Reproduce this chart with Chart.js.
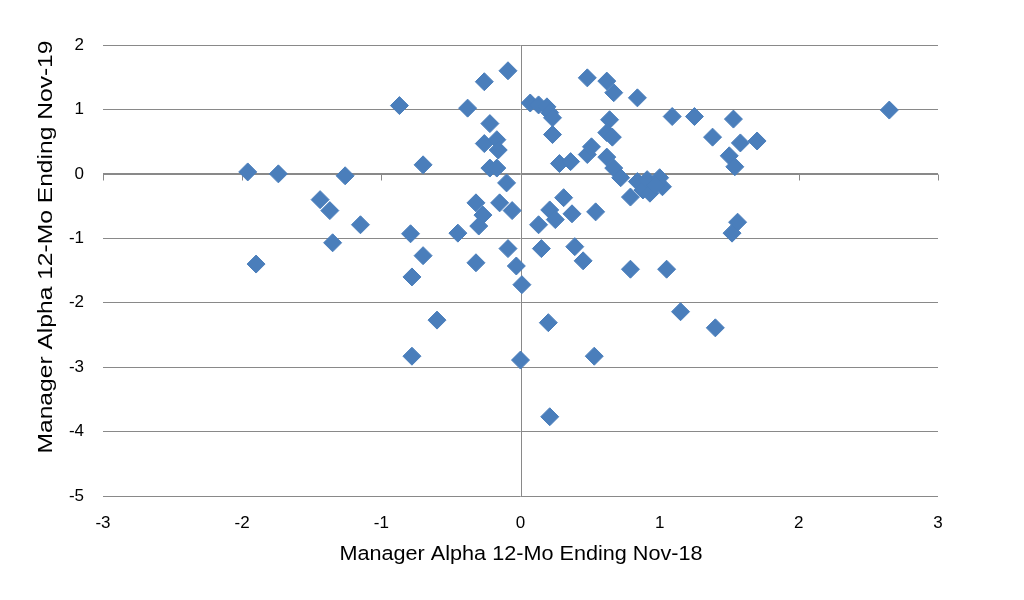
<!DOCTYPE html>
<html>
<head>
<meta charset="utf-8">
<script src="https://cdn.jsdelivr.net/npm/chart.js@4/dist/chart.umd.min.js"></script>
<style>
  html, body { margin: 0; padding: 0; background: #fff; }
  canvas { display: block; }
</style>
</head>
<body>
<canvas id="chart" width="1024" height="600"></canvas>
<script>
// Manager alpha, 12 months ending Nov-18 (x) and Nov-19 (y)
var alphaNov18 = [
    -1.96, -1.74, -1.90, -1.44, -1.37, -1.26, -1.35, -1.15, -0.87, -0.79,
    -0.78, -0.70, -0.70, -0.60, -0.78, -0.45, -0.38, -0.32, -0.27, -0.30,
    -0.32, -0.26, -0.22, -0.26, -0.17, -0.16, -0.22, -0.17, -0.15, -0.10,
    -0.09, -0.06, -0.09, -0.03, 0.01, 0.00, 0.07, 0.13, 0.19, 0.21,
    0.23, 0.23, 0.13, 0.15, 0.20, 0.21, 0.21, 0.25, 0.31, 0.28,
    0.36, 0.37, 0.54, 0.48, 0.51, 0.48, 0.39, 0.45, 0.53, 0.62,
    0.67, 0.64, 0.62, 0.66, 0.62, 0.67, 0.72, 0.84, 0.79, 0.84,
    0.88, 0.91, 0.93, 1.00, 1.02, 0.97, 0.79, 1.05, 1.09, 1.25,
    1.15, 1.38, 1.40, 1.50, 1.53, 1.58, 1.70, 1.54, 1.56, 1.52,
    2.65
];
var alphaNov19 = [
    0.03, 0.00, -1.40, -0.40, -0.57, -0.03, -1.07, -0.79, 1.06, -0.93,
    -1.60, 0.14, -1.27, -2.27, -2.83, -0.92, 1.02, -0.45, -0.64, -0.81,
    -1.38, 1.43, 0.78, 0.47, 0.53, 0.37, 0.09, 0.09, -0.45, -0.14,
    1.60, -0.57, -1.16, -1.43, -1.72, -2.89, 1.10, 1.07, 1.04, 0.95,
    0.87, 0.61, -0.79, -1.16, -2.31, -3.77, -0.56, -0.71, -0.37, 0.16,
    0.19, -0.62, -0.59, 0.30, 0.42, 1.49, -1.13, -1.35, -2.83, 1.44,
    1.26, 0.84, 0.64, 0.57, 0.26, 0.09, -0.06, 1.18, -0.36, -0.12,
    -0.25, -0.09, -0.30, -0.06, -0.20, -0.17, -1.48, -1.48, 0.89, 0.89,
    -2.14, 0.57, -2.39, 0.28, 0.85, 0.48, 0.51, 0.11, -0.75, -0.92,
    0.99
];
var xTitle = 'Manager Alpha 12-Mo Ending Nov-18';
var yTitle = 'Manager Alpha 12-Mo Ending Nov-19';

var points = alphaNov18.map(function(x, i) {
    return { x: x, y: alphaNov19[i] };
});

var axisGray = '#898989';
var fontFamily = '"Liberation Sans", Arial, sans-serif';

// zero axes with tick marks, like the spreadsheet chart
var zeroAxes = {
    id: 'zeroAxes',
    beforeDatasetsDraw: function(chart) {
        var ctx = chart.ctx;
        var xs = chart.scales.x;
        var ys = chart.scales.y;
        var area = chart.chartArea;
        var x0 = Math.round(xs.getPixelForValue(0)) + 0.5;
        var y0 = Math.round(ys.getPixelForValue(0)) + 0.5;
        ctx.save();
        ctx.strokeStyle = axisGray;
        ctx.lineWidth = 1;
        ctx.beginPath();
        ctx.moveTo(x0, area.top);
        ctx.lineTo(x0, area.bottom);
        ctx.moveTo(area.left, y0);
        ctx.lineTo(area.right, y0);
        xs.ticks.forEach(function(t) {
            var px = Math.round(xs.getPixelForValue(t.value)) + 0.5;
            ctx.moveTo(px, y0);
            ctx.lineTo(px, y0 + 6);
        });
        ctx.stroke();
        ctx.restore();
    }
};

// axis titles; the source text is a bit stretched along its length
var axisTitles = {
    id: 'axisTitles',
    afterDraw: function(chart) {
        var ctx = chart.ctx;
        ctx.save();
        ctx.fillStyle = '#000';
        ctx.font = '20.5px ' + fontFamily;
        ctx.textAlign = 'center';
        ctx.textBaseline = 'middle';

        ctx.save();
        ctx.translate(521, 554);
        ctx.scale(1.055, 1);
        ctx.fillText(xTitle, 0, 0);
        ctx.restore();

        ctx.save();
        ctx.translate(46, 247);
        ctx.rotate(-Math.PI / 2);
        ctx.scale(1.2, 1);
        ctx.fillText(yTitle, 0, 0);
        ctx.restore();

        ctx.restore();
    }
};

var ctx = document.getElementById('chart').getContext('2d');
var chart = new Chart(ctx, {
    type: 'scatter',
    data: {
        datasets: [{
            data: points,
            pointStyle: 'rectRot',
            pointRadius: 9,
            pointHoverRadius: 9,
            backgroundColor: '#4a7ebb',
            borderColor: '#4a7ebb',
            borderWidth: 1
        }]
    },
    options: {
        responsive: false,
        animation: false,
        layout: { padding: { left: 30, right: 86, top: 45, bottom: 30 } },
        plugins: {
            legend: { display: false },
            tooltip: { enabled: false }
        },
        scales: {
            x: {
                type: 'linear',
                min: -3,
                max: 3,
                ticks: { stepSize: 1, padding: 17, color: '#000', font: { family: fontFamily, size: 17 } },
                grid: { display: false, drawTicks: false },
                border: { display: false },
                afterFit: function(scale) { scale.height = 74; }
            },
            y: {
                type: 'linear',
                min: -5,
                max: 2,
                ticks: { stepSize: 1, padding: 19, color: '#000', font: { family: fontFamily, size: 17 } },
                grid: { color: axisGray, lineWidth: 1, drawTicks: false },
                border: { display: false },
                afterFit: function(scale) { scale.width = 73; }
            }
        }
    },
    plugins: [zeroAxes, axisTitles]
});
</script>
</body>
</html>
